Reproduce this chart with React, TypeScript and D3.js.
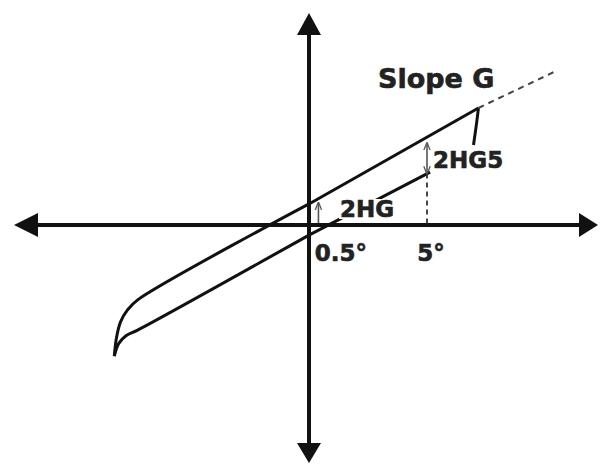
import React, { useEffect } from 'react';
import * as d3 from 'd3';

// rotation (deg) vs moment
const upperBranch: [number, number][] = [
  [7.18, 5.0], [0, 0.9], [-7.26, -3.2], [-7.69, -3.63], [-7.99, -4.15], [-8.16, -4.83], [-8.25, -5.6]
];
const lowerBranch: [number, number][] = [
  [-8.25, -5.6], [-8.06, -5.06], [-7.74, -4.72], [-7.26, -4.49], [0, -0.43], [5.13, 2.26]
];
const unloadStart: [number, number][] = [[7.18, 5.0], [7.09, 4.27], [6.97, 3.42]];
const slopeExtension: [number, number][] = [[7.18, 5.0], [10.38, 6.54]];
const tickValues = [0.5, 5];
const tickLabels = ['0.5°', '5°'];
const gapArrow2HG: [number, number] = [0.4, 0.95];
const gapArrow2HG5: [number, number, number] = [5, 2.2, 3.5];

const W = 600;
const H = 465;

export default function App() {
  useEffect(() => {
    document.body.style.margin = '0';
  }, []);

  const x = d3.scaleLinear().domain([0, 5]).range([309, 427]);
  const y = d3.scaleLinear().domain([0, 5]).range([225, 108]);
  const line = d3.line<[number, number]>().x(d => x(d[0])).y(d => y(d[1]));
  const curve = d3.line<[number, number]>().x(d => x(d[0])).y(d => y(d[1])).curve(d3.curveCatmullRom);

  const ax0 = 14, ax1 = 598, ay0 = 13, ay1 = 463;
  const font = "'DejaVu Sans', Verdana, sans-serif";
  const ink = '#111';
  const thin = '#555';
  const txt = { fontFamily: font, fontWeight: 'bold', fill: '#222', stroke: '#222', strokeWidth: 0.6 } as const;

  return (
    <svg width={W} height={H} style={{ display: 'block', background: '#fff' }}>
      <defs>
        <marker id="hd" viewBox="0 0 10 10" refX="9" refY="5" markerWidth="5" markerHeight="5" orient="auto-start-reverse">
          <path d="M0,1 L10,5 L0,9" fill="none" stroke={thin} strokeWidth="1.6" />
        </marker>
      </defs>

      {/* axes */}
      <line x1={ax0 + 20} x2={ax1 - 18} y1={y(0)} y2={y(0)} stroke={ink} strokeWidth={4} />
      <line x1={x(0)} x2={x(0)} y1={ay0 + 18} y2={ay1 - 18} stroke={ink} strokeWidth={4} />
      <path d={`M${ax0},${y(0)} L${ax0 + 24},${y(0) - 12} L${ax0 + 24},${y(0) + 12} Z`} fill={ink} />
      <path d={`M${ax1},${y(0)} L${ax1 - 19},${y(0) - 12} L${ax1 - 19},${y(0) + 12} Z`} fill={ink} />
      <path d={`M${x(0)},${ay0} L${x(0) - 12},${ay0 + 22} L${x(0) + 12},${ay0 + 22} Z`} fill={ink} />
      <path d={`M${x(0)},${ay1} L${x(0) - 12},${ay1 - 20} L${x(0) + 12},${ay1 - 20} Z`} fill={ink} />

      {/* hysteresis loop */}
      <path d={curve(upperBranch.slice(1)) ?? ''} fill="none" stroke={ink} strokeWidth={3} />
      <path d={line(upperBranch.slice(0, 2)) ?? ''} fill="none" stroke={ink} strokeWidth={3} />
      <path d={curve(lowerBranch.slice(0, 5)) ?? ''} fill="none" stroke={ink} strokeWidth={3} />
      <path d={line(lowerBranch.slice(4)) ?? ''} fill="none" stroke={ink} strokeWidth={3} />
      <path d={curve(unloadStart) ?? ''} fill="none" stroke={ink} strokeWidth={3} />
      <path d={line(slopeExtension) ?? ''} fill="none" stroke="#444" strokeWidth={2} strokeDasharray="6,5" />

      {/* 5 deg guide */}
      <line x1={x(gapArrow2HG5[0])} x2={x(gapArrow2HG5[0])} y1={y(gapArrow2HG5[1])} y2={y(0)}
        stroke="#333" strokeWidth={1.8} strokeDasharray="5,4" />

      {/* gap arrows */}
      <line x1={x(gapArrow2HG[0])} x2={x(gapArrow2HG[0])} y1={y(0) - 2} y2={y(gapArrow2HG[1])}
        stroke={thin} strokeWidth={1.6} markerEnd="url(#hd)" />
      <line x1={x(gapArrow2HG5[0])} x2={x(gapArrow2HG5[0])} y1={y(gapArrow2HG5[1])} y2={y(gapArrow2HG5[2])}
        stroke={thin} strokeWidth={1.6} markerEnd="url(#hd)" markerStart="url(#hd)" />

      {/* labels */}
      <rect x={339} y={199} width={58} height={20} fill="#fff" />
      <text x={340} y={217} fontSize={23} {...txt}>2HG</text>
      <text x={433} y={168} fontSize={23} {...txt}>2HG5</text>
      <text x={378} y={88} fontSize={27} {...txt}>Slope G</text>
      {tickValues.map((v, i) => (
        <text key={v} x={x(v) + (i === 0 ? -6 : 4)} y={261} textAnchor={i === 0 ? 'start' : 'middle'}
          fontSize={23} {...txt}>{tickLabels[i]}</text>
      ))}
    </svg>
  );
}
